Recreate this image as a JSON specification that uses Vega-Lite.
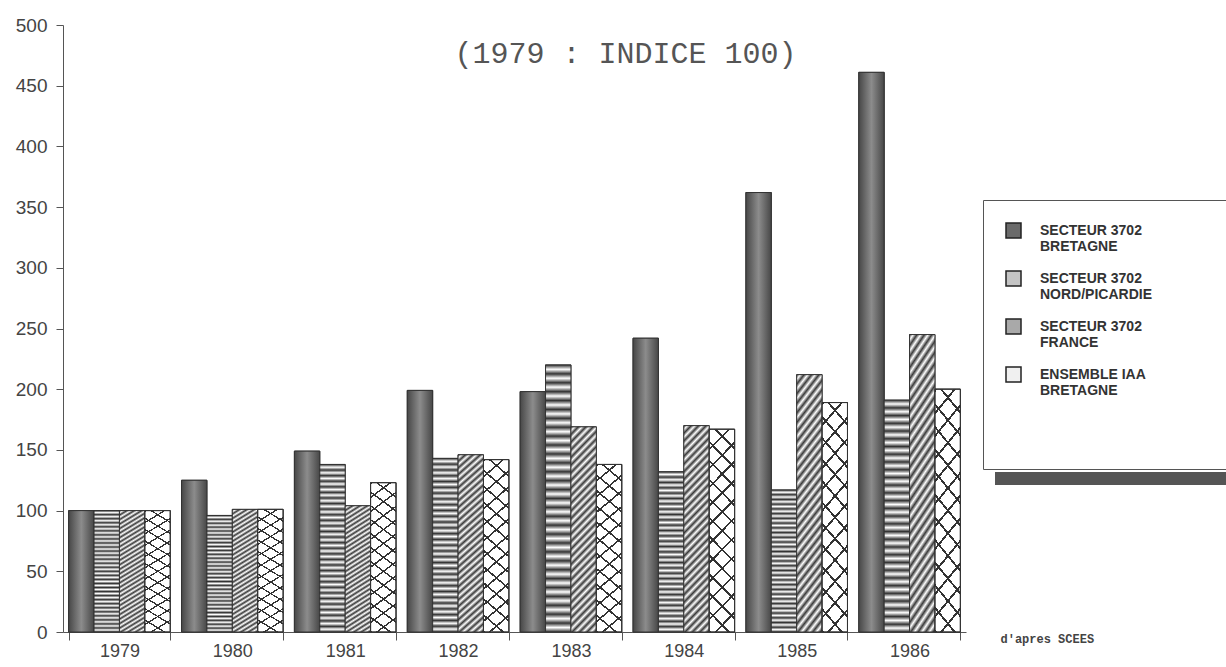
{
  "$schema": "https://vega.github.io/schema/vega-lite/v6.json",
  "width": 903,
  "height": 607,
  "autosize": {"type": "none"},
  "padding": {"left": 63, "top": 25, "right": 260, "bottom": 35},
  "background": "white",
  "config": {
    "view": {"stroke": null},
    "font": "Liberation Sans"
  },
  "title": {
    "text": "(1979 : INDICE 100)",
    "font": "Liberation Mono",
    "fontSize": 30,
    "fontWeight": "normal",
    "color": "#555555",
    "anchor": "middle",
    "frame": "group",
    "baseline": "alphabetic",
    "offset": 0,
    "dx": 111,
    "dy": 77
  },
  "data": {
    "values": [
      {"year": "1979", "series": "SECTEUR 3702|BRETAGNE", "value": 100},
      {"year": "1979", "series": "SECTEUR 3702|NORD/PICARDIE", "value": 100},
      {"year": "1979", "series": "SECTEUR 3702|FRANCE", "value": 100},
      {"year": "1979", "series": "ENSEMBLE IAA|BRETAGNE", "value": 100},
      {"year": "1980", "series": "SECTEUR 3702|BRETAGNE", "value": 125},
      {"year": "1980", "series": "SECTEUR 3702|NORD/PICARDIE", "value": 96},
      {"year": "1980", "series": "SECTEUR 3702|FRANCE", "value": 101},
      {"year": "1980", "series": "ENSEMBLE IAA|BRETAGNE", "value": 101},
      {"year": "1981", "series": "SECTEUR 3702|BRETAGNE", "value": 149},
      {"year": "1981", "series": "SECTEUR 3702|NORD/PICARDIE", "value": 138},
      {"year": "1981", "series": "SECTEUR 3702|FRANCE", "value": 104},
      {"year": "1981", "series": "ENSEMBLE IAA|BRETAGNE", "value": 123},
      {"year": "1982", "series": "SECTEUR 3702|BRETAGNE", "value": 199},
      {"year": "1982", "series": "SECTEUR 3702|NORD/PICARDIE", "value": 143},
      {"year": "1982", "series": "SECTEUR 3702|FRANCE", "value": 146},
      {"year": "1982", "series": "ENSEMBLE IAA|BRETAGNE", "value": 142},
      {"year": "1983", "series": "SECTEUR 3702|BRETAGNE", "value": 198},
      {"year": "1983", "series": "SECTEUR 3702|NORD/PICARDIE", "value": 220},
      {"year": "1983", "series": "SECTEUR 3702|FRANCE", "value": 169},
      {"year": "1983", "series": "ENSEMBLE IAA|BRETAGNE", "value": 138},
      {"year": "1984", "series": "SECTEUR 3702|BRETAGNE", "value": 242},
      {"year": "1984", "series": "SECTEUR 3702|NORD/PICARDIE", "value": 132},
      {"year": "1984", "series": "SECTEUR 3702|FRANCE", "value": 170},
      {"year": "1984", "series": "ENSEMBLE IAA|BRETAGNE", "value": 167},
      {"year": "1985", "series": "SECTEUR 3702|BRETAGNE", "value": 362},
      {"year": "1985", "series": "SECTEUR 3702|NORD/PICARDIE", "value": 117},
      {"year": "1985", "series": "SECTEUR 3702|FRANCE", "value": 212},
      {"year": "1985", "series": "ENSEMBLE IAA|BRETAGNE", "value": 189},
      {"year": "1986", "series": "SECTEUR 3702|BRETAGNE", "value": 461},
      {"year": "1986", "series": "SECTEUR 3702|NORD/PICARDIE", "value": 191},
      {"year": "1986", "series": "SECTEUR 3702|FRANCE", "value": 245},
      {"year": "1986", "series": "ENSEMBLE IAA|BRETAGNE", "value": 200}
    ]
  },
  "encoding": {
    "x": {
      "field": "year",
      "type": "nominal",
      "scale": {"paddingInner": 0.1, "paddingOuter": 0.05},
      "axis": {
        "title": "d'apres SCEES",
        "titleFont": "Liberation Mono",
        "titleFontSize": 12,
        "titleFontWeight": "bold",
        "titleColor": "#444444",
        "titleX": 937,
        "titleY": 6,
        "titleAlign": "left",
        "titleBaseline": "middle",
        "titleAnchor": "start",
        "labelAngle": 0,
        "labelFontSize": 18,
        "labelColor": "#444444",
        "labelPadding": 2,
        "tickBand": "extent",
        "tickSize": 8,
        "tickColor": "#555555",
        "domainColor": "#555555"
      }
    },
    "xOffset": {
      "field": "series",
      "type": "nominal",
      "sort": ["SECTEUR 3702|BRETAGNE", "SECTEUR 3702|NORD/PICARDIE", "SECTEUR 3702|FRANCE", "ENSEMBLE IAA|BRETAGNE"],
      "scale": {"paddingInner": 0, "paddingOuter": 0}
    },
    "y": {
      "field": "value",
      "type": "quantitative",
      "scale": {"domain": [0, 500], "nice": false},
      "axis": {
        "title": null,
        "values": [0, 50, 100, 150, 200, 250, 300, 350, 400, 450, 500],
        "grid": false,
        "labelFontSize": 19,
        "labelColor": "#444444",
        "labelPadding": 9,
        "tickSize": 7,
        "tickColor": "#555555",
        "domainColor": "#555555"
      }
    }
  },
  "layer": [
    {
      "mark": {"type": "bar", "stroke": "#333333", "strokeWidth": 1},
      "encoding": {
        "color": {
          "field": "series",
          "type": "nominal",
          "scale": {
            "domain": ["SECTEUR 3702|BRETAGNE", "SECTEUR 3702|NORD/PICARDIE", "SECTEUR 3702|FRANCE", "ENSEMBLE IAA|BRETAGNE"],
            "range": ["#6a6a6a", "#c4c4c4", "#a9a9a9", "#f0f0f0"]
          },
          "legend": {
            "orient": "none",
            "legendX": 920,
            "legendY": 175,
            "padding": 22,
            "strokeColor": "#555555",
            "fillColor": "white",
            "symbolType": "square",
            "symbolSize": 225,
            "symbolStrokeColor": "#222222",
            "symbolStrokeWidth": 1.5,
            "labelFont": "Liberation Sans Narrow, Liberation Sans",
            "labelFontSize": 14,
            "labelFontWeight": "bold",
            "labelColor": "#333333",
            "labelExpr": "split(datum.label, '|')",
            "labelLimit": 400,
            "labelOffset": 18,
            "rowPadding": 14,
            "title": "___________________________",
            "titleColor": "white",
            "titleOrient": "bottom",
            "titleFontSize": 14,
            "titleLimit": 1000,
            "titlePadding": 35
          }
        },
        "strokeDash": {
          "datum": "shadow",
          "type": "nominal",
          "scale": {"domain": ["shadow", "shadow2"], "range": [[1, 0], [1, 0]]},
          "legend": {
            "orient": "none",
            "legendX": 932,
            "legendY": 447,
            "direction": "horizontal",
            "columns": 2,
            "columnPadding": 240,
            "padding": 6,
            "title": null,
            "fillColor": "#555555",
            "strokeColor": null,
            "symbolSize": 0,
            "symbolOpacity": 0,
            "symbolStrokeWidth": 0,
            "labelOffset": 0,
            "labelFontSize": 1,
            "labelColor": "#555555",
            "labelExpr": "''"
          }
        }
      }
    },
    {
      "transform": [{"filter": "datum.series === 'SECTEUR 3702|BRETAGNE'"}],
      "mark": {
        "type": "bar",
        "stroke": "#333333",
        "strokeWidth": 1,
        "fill": {
          "gradient": "linear", "x1": 0, "y1": 0, "x2": 1, "y2": 0,
          "stops": [
            {"offset": 0, "color": "#474747"},
            {"offset": 0.5, "color": "#8c8c8c"},
            {"offset": 1, "color": "#474747"}
          ]
        }
      }
    },
    {
      "transform": [{"filter": "datum.series === 'SECTEUR 3702|NORD/PICARDIE'"}],
      "mark": {
        "type": "bar",
        "stroke": "#333333",
        "strokeWidth": 1,
        "fill": {
          "gradient": "linear", "x1": 0, "y1": 0, "x2": 0, "y2": 1,
          "stops": [
            {"offset": 0, "color": "#333333"}, {"offset": 0.0167, "color": "#ffffff"},
            {"offset": 0.0333, "color": "#333333"}, {"offset": 0.05, "color": "#ffffff"},
            {"offset": 0.0667, "color": "#333333"}, {"offset": 0.0833, "color": "#ffffff"},
            {"offset": 0.1, "color": "#333333"}, {"offset": 0.1167, "color": "#ffffff"},
            {"offset": 0.1333, "color": "#333333"}, {"offset": 0.15, "color": "#ffffff"},
            {"offset": 0.1667, "color": "#333333"}, {"offset": 0.1833, "color": "#ffffff"},
            {"offset": 0.2, "color": "#333333"}, {"offset": 0.2167, "color": "#ffffff"},
            {"offset": 0.2333, "color": "#333333"}, {"offset": 0.25, "color": "#ffffff"},
            {"offset": 0.2667, "color": "#333333"}, {"offset": 0.2833, "color": "#ffffff"},
            {"offset": 0.3, "color": "#333333"}, {"offset": 0.3167, "color": "#ffffff"},
            {"offset": 0.3333, "color": "#333333"}, {"offset": 0.35, "color": "#ffffff"},
            {"offset": 0.3667, "color": "#333333"}, {"offset": 0.3833, "color": "#ffffff"},
            {"offset": 0.4, "color": "#333333"}, {"offset": 0.4167, "color": "#ffffff"},
            {"offset": 0.4333, "color": "#333333"}, {"offset": 0.45, "color": "#ffffff"},
            {"offset": 0.4667, "color": "#333333"}, {"offset": 0.4833, "color": "#ffffff"},
            {"offset": 0.5, "color": "#333333"}, {"offset": 0.5167, "color": "#ffffff"},
            {"offset": 0.5333, "color": "#333333"}, {"offset": 0.55, "color": "#ffffff"},
            {"offset": 0.5667, "color": "#333333"}, {"offset": 0.5833, "color": "#ffffff"},
            {"offset": 0.6, "color": "#333333"}, {"offset": 0.6167, "color": "#ffffff"},
            {"offset": 0.6333, "color": "#333333"}, {"offset": 0.65, "color": "#ffffff"},
            {"offset": 0.6667, "color": "#333333"}, {"offset": 0.6833, "color": "#ffffff"},
            {"offset": 0.7, "color": "#333333"}, {"offset": 0.7167, "color": "#ffffff"},
            {"offset": 0.7333, "color": "#333333"}, {"offset": 0.75, "color": "#ffffff"},
            {"offset": 0.7667, "color": "#333333"}, {"offset": 0.7833, "color": "#ffffff"},
            {"offset": 0.8, "color": "#333333"}, {"offset": 0.8167, "color": "#ffffff"},
            {"offset": 0.8333, "color": "#333333"}, {"offset": 0.85, "color": "#ffffff"},
            {"offset": 0.8667, "color": "#333333"}, {"offset": 0.8833, "color": "#ffffff"},
            {"offset": 0.9, "color": "#333333"}, {"offset": 0.9167, "color": "#ffffff"},
            {"offset": 0.9333, "color": "#333333"}, {"offset": 0.95, "color": "#ffffff"},
            {"offset": 0.9667, "color": "#333333"}, {"offset": 0.9833, "color": "#ffffff"},
            {"offset": 1, "color": "#333333"}
          ]
        }
      }
    },
    {
      "transform": [{"filter": "datum.series === 'SECTEUR 3702|FRANCE'"}],
      "mark": {
        "type": "bar",
        "stroke": "#333333",
        "strokeWidth": 1,
        "fill": {
          "gradient": "linear", "x1": 0, "y1": 0, "x2": 0.14, "y2": 1.1,
          "stops": [
            {"offset": 0, "color": "#3a3a3a"}, {"offset": 0.0167, "color": "#ffffff"},
            {"offset": 0.0333, "color": "#3a3a3a"}, {"offset": 0.05, "color": "#ffffff"},
            {"offset": 0.0667, "color": "#3a3a3a"}, {"offset": 0.0833, "color": "#ffffff"},
            {"offset": 0.1, "color": "#3a3a3a"}, {"offset": 0.1167, "color": "#ffffff"},
            {"offset": 0.1333, "color": "#3a3a3a"}, {"offset": 0.15, "color": "#ffffff"},
            {"offset": 0.1667, "color": "#3a3a3a"}, {"offset": 0.1833, "color": "#ffffff"},
            {"offset": 0.2, "color": "#3a3a3a"}, {"offset": 0.2167, "color": "#ffffff"},
            {"offset": 0.2333, "color": "#3a3a3a"}, {"offset": 0.25, "color": "#ffffff"},
            {"offset": 0.2667, "color": "#3a3a3a"}, {"offset": 0.2833, "color": "#ffffff"},
            {"offset": 0.3, "color": "#3a3a3a"}, {"offset": 0.3167, "color": "#ffffff"},
            {"offset": 0.3333, "color": "#3a3a3a"}, {"offset": 0.35, "color": "#ffffff"},
            {"offset": 0.3667, "color": "#3a3a3a"}, {"offset": 0.3833, "color": "#ffffff"},
            {"offset": 0.4, "color": "#3a3a3a"}, {"offset": 0.4167, "color": "#ffffff"},
            {"offset": 0.4333, "color": "#3a3a3a"}, {"offset": 0.45, "color": "#ffffff"},
            {"offset": 0.4667, "color": "#3a3a3a"}, {"offset": 0.4833, "color": "#ffffff"},
            {"offset": 0.5, "color": "#3a3a3a"}, {"offset": 0.5167, "color": "#ffffff"},
            {"offset": 0.5333, "color": "#3a3a3a"}, {"offset": 0.55, "color": "#ffffff"},
            {"offset": 0.5667, "color": "#3a3a3a"}, {"offset": 0.5833, "color": "#ffffff"},
            {"offset": 0.6, "color": "#3a3a3a"}, {"offset": 0.6167, "color": "#ffffff"},
            {"offset": 0.6333, "color": "#3a3a3a"}, {"offset": 0.65, "color": "#ffffff"},
            {"offset": 0.6667, "color": "#3a3a3a"}, {"offset": 0.6833, "color": "#ffffff"},
            {"offset": 0.7, "color": "#3a3a3a"}, {"offset": 0.7167, "color": "#ffffff"},
            {"offset": 0.7333, "color": "#3a3a3a"}, {"offset": 0.75, "color": "#ffffff"},
            {"offset": 0.7667, "color": "#3a3a3a"}, {"offset": 0.7833, "color": "#ffffff"},
            {"offset": 0.8, "color": "#3a3a3a"}, {"offset": 0.8167, "color": "#ffffff"},
            {"offset": 0.8333, "color": "#3a3a3a"}, {"offset": 0.85, "color": "#ffffff"},
            {"offset": 0.8667, "color": "#3a3a3a"}, {"offset": 0.8833, "color": "#ffffff"},
            {"offset": 0.9, "color": "#3a3a3a"}, {"offset": 0.9167, "color": "#ffffff"},
            {"offset": 0.9333, "color": "#3a3a3a"}, {"offset": 0.95, "color": "#ffffff"},
            {"offset": 0.9667, "color": "#3a3a3a"}, {"offset": 0.9833, "color": "#ffffff"},
            {"offset": 1, "color": "#3a3a3a"}
          ]
        }
      }
    },
    {
      "transform": [{"filter": "datum.series === 'ENSEMBLE IAA|BRETAGNE'"}],
      "mark": {
        "type": "bar",
        "stroke": "#333333",
        "strokeWidth": 1,
        "fill": {
          "gradient": "linear", "x1": 0, "y1": 1, "x2": 0.14, "y2": -0.1,
          "stops": [
            {"offset": 0, "color": "#333333"}, {"offset": 0.011, "color": "#333333"}, {"offset": 0.011, "color": "#ffffff"}, {"offset": 0.0833, "color": "#ffffff"},
            {"offset": 0.0833, "color": "#333333"}, {"offset": 0.0943, "color": "#333333"}, {"offset": 0.0943, "color": "#ffffff"}, {"offset": 0.1667, "color": "#ffffff"},
            {"offset": 0.1667, "color": "#333333"}, {"offset": 0.1777, "color": "#333333"}, {"offset": 0.1777, "color": "#ffffff"}, {"offset": 0.25, "color": "#ffffff"},
            {"offset": 0.25, "color": "#333333"}, {"offset": 0.261, "color": "#333333"}, {"offset": 0.261, "color": "#ffffff"}, {"offset": 0.3333, "color": "#ffffff"},
            {"offset": 0.3333, "color": "#333333"}, {"offset": 0.3443, "color": "#333333"}, {"offset": 0.3443, "color": "#ffffff"}, {"offset": 0.4167, "color": "#ffffff"},
            {"offset": 0.4167, "color": "#333333"}, {"offset": 0.4277, "color": "#333333"}, {"offset": 0.4277, "color": "#ffffff"}, {"offset": 0.5, "color": "#ffffff"},
            {"offset": 0.5, "color": "#333333"}, {"offset": 0.511, "color": "#333333"}, {"offset": 0.511, "color": "#ffffff"}, {"offset": 0.5833, "color": "#ffffff"},
            {"offset": 0.5833, "color": "#333333"}, {"offset": 0.5943, "color": "#333333"}, {"offset": 0.5943, "color": "#ffffff"}, {"offset": 0.6667, "color": "#ffffff"},
            {"offset": 0.6667, "color": "#333333"}, {"offset": 0.6777, "color": "#333333"}, {"offset": 0.6777, "color": "#ffffff"}, {"offset": 0.75, "color": "#ffffff"},
            {"offset": 0.75, "color": "#333333"}, {"offset": 0.761, "color": "#333333"}, {"offset": 0.761, "color": "#ffffff"}, {"offset": 0.8333, "color": "#ffffff"},
            {"offset": 0.8333, "color": "#333333"}, {"offset": 0.8443, "color": "#333333"}, {"offset": 0.8443, "color": "#ffffff"}, {"offset": 0.9167, "color": "#ffffff"},
            {"offset": 0.9167, "color": "#333333"}, {"offset": 0.9277, "color": "#333333"}, {"offset": 0.9277, "color": "#ffffff"}, {"offset": 1, "color": "#ffffff"}
          ]
        }
      }
    },
    {
      "transform": [{"filter": "datum.series === 'ENSEMBLE IAA|BRETAGNE'"}],
      "mark": {
        "type": "bar",
        "stroke": "#333333",
        "strokeWidth": 1,
        "fill": {
          "gradient": "linear", "x1": 0, "y1": 0, "x2": 0.14, "y2": 1.1,
          "stops": [
            {"offset": 0, "color": "#333333"}, {"offset": 0.011, "color": "#333333"}, {"offset": 0.011, "color": "rgba(255,255,255,0)"}, {"offset": 0.0833, "color": "rgba(255,255,255,0)"},
            {"offset": 0.0833, "color": "#333333"}, {"offset": 0.0943, "color": "#333333"}, {"offset": 0.0943, "color": "rgba(255,255,255,0)"}, {"offset": 0.1667, "color": "rgba(255,255,255,0)"},
            {"offset": 0.1667, "color": "#333333"}, {"offset": 0.1777, "color": "#333333"}, {"offset": 0.1777, "color": "rgba(255,255,255,0)"}, {"offset": 0.25, "color": "rgba(255,255,255,0)"},
            {"offset": 0.25, "color": "#333333"}, {"offset": 0.261, "color": "#333333"}, {"offset": 0.261, "color": "rgba(255,255,255,0)"}, {"offset": 0.3333, "color": "rgba(255,255,255,0)"},
            {"offset": 0.3333, "color": "#333333"}, {"offset": 0.3443, "color": "#333333"}, {"offset": 0.3443, "color": "rgba(255,255,255,0)"}, {"offset": 0.4167, "color": "rgba(255,255,255,0)"},
            {"offset": 0.4167, "color": "#333333"}, {"offset": 0.4277, "color": "#333333"}, {"offset": 0.4277, "color": "rgba(255,255,255,0)"}, {"offset": 0.5, "color": "rgba(255,255,255,0)"},
            {"offset": 0.5, "color": "#333333"}, {"offset": 0.511, "color": "#333333"}, {"offset": 0.511, "color": "rgba(255,255,255,0)"}, {"offset": 0.5833, "color": "rgba(255,255,255,0)"},
            {"offset": 0.5833, "color": "#333333"}, {"offset": 0.5943, "color": "#333333"}, {"offset": 0.5943, "color": "rgba(255,255,255,0)"}, {"offset": 0.6667, "color": "rgba(255,255,255,0)"},
            {"offset": 0.6667, "color": "#333333"}, {"offset": 0.6777, "color": "#333333"}, {"offset": 0.6777, "color": "rgba(255,255,255,0)"}, {"offset": 0.75, "color": "rgba(255,255,255,0)"},
            {"offset": 0.75, "color": "#333333"}, {"offset": 0.761, "color": "#333333"}, {"offset": 0.761, "color": "rgba(255,255,255,0)"}, {"offset": 0.8333, "color": "rgba(255,255,255,0)"},
            {"offset": 0.8333, "color": "#333333"}, {"offset": 0.8443, "color": "#333333"}, {"offset": 0.8443, "color": "rgba(255,255,255,0)"}, {"offset": 0.9167, "color": "rgba(255,255,255,0)"},
            {"offset": 0.9167, "color": "#333333"}, {"offset": 0.9277, "color": "#333333"}, {"offset": 0.9277, "color": "rgba(255,255,255,0)"}, {"offset": 1, "color": "rgba(255,255,255,0)"}
          ]
        }
      }
    }
  ]
}
